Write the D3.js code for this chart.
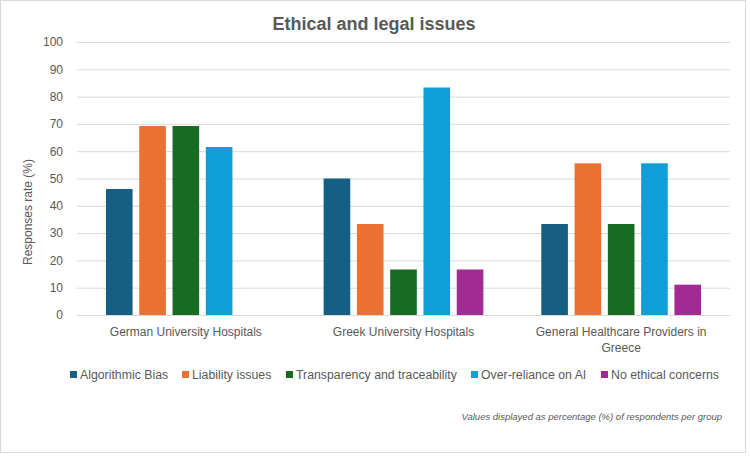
<!DOCTYPE html>
<html>
<head>
<meta charset="utf-8">
<script src="https://cdn.jsdelivr.net/npm/d3@7"></script>
<style>
  html, body { margin: 0; padding: 0; background: #fff; }
  svg { display: block; font-family: "Liberation Sans", Arial, sans-serif; }
</style>
</head>
<body>
<svg id="chart" width="750" height="458"></svg>
<script>
const categories = ["German University Hospitals", "Greek University Hospitals", "General Healthcare Providers in Greece"];
const categoryLines = [["German University Hospitals"], ["Greek University Hospitals"], ["General Healthcare Providers in", "Greece"]];
const seriesNames = ["Algorithmic Bias", "Liability issues", "Transparency and traceability", "Over-reliance on AI", "No ethical concerns"];
const algorithmicBias = [46.15, 50.00, 33.33];
const liabilityIssues = [69.23, 33.33, 55.56];
const transparency = [69.23, 16.67, 33.33];
const overReliance = [61.54, 83.33, 55.56];
const noConcerns = [0, 16.67, 11.11];
const seriesValues = [algorithmicBias, liabilityIssues, transparency, overReliance, noConcerns];
const colors = ["#156082", "#E97132", "#196B24", "#0F9ED5", "#A02B93"];
const yTicks = [0, 10, 20, 30, 40, 50, 60, 70, 80, 90, 100];

const svg = d3.select("#chart");
const plot = { left: 77, right: 730, top: 42, bottom: 315 };
const textColor = "#595959";

// border
svg.append("rect").attr("x", 0.5).attr("y", 0.5).attr("width", 745).attr("height", 452)
  .attr("fill", "#fff").attr("stroke", "#d9d9d9").attr("stroke-width", 1);

const x0 = d3.scaleBand().domain(categories).range([plot.left, plot.right]).paddingInner(0).paddingOuter(0);
const x1 = d3.scaleBand().domain(seriesNames).range([0, x0.bandwidth()]).paddingInner(0.2).paddingOuter(0.87);
const y = d3.scaleLinear().domain([0, 100]).range([plot.bottom, plot.top]);

// gridlines + y tick labels via axis
const yAxis = d3.axisLeft(y).tickValues(yTicks).tickSize(-(plot.right - plot.left)).tickPadding(14);
const gy = svg.append("g").attr("transform", `translate(${plot.left},0)`).call(yAxis);
gy.select(".domain").remove();
gy.selectAll(".tick line").attr("stroke", "#d9d9d9").attr("stroke-width", 1);
gy.selectAll(".tick text").attr("fill", textColor).style("font-size", "12px")
  .style("font-family", "'Liberation Sans', Arial, sans-serif");

// bars
const groups = svg.append("g").selectAll("g").data(categories).join("g")
  .attr("transform", d => `translate(${x0(d)},0)`);
groups.selectAll("rect")
  .data((c, ci) => seriesNames.map((s, si) => ({ s, si, v: seriesValues[si][ci] })))
  .join("rect")
  .filter(d => d.v > 0)
  .attr("x", d => x1(d.s))
  .attr("width", x1.bandwidth())
  .attr("y", d => y(d.v))
  .attr("height", d => y(0) - y(d.v))
  .attr("fill", d => colors[d.si]);

// category labels
categories.forEach((c, ci) => {
  const cx = x0(c) + x0.bandwidth() / 2;
  const t = svg.append("text").attr("x", cx).attr("y", 335.5)
    .attr("text-anchor", "middle").attr("fill", textColor).style("font-size", "12px");
  categoryLines[ci].forEach((line, li) => {
    t.append("tspan").attr("x", cx).attr("dy", li === 0 ? 0 : 16).text(line);
  });
});

// title
svg.append("text").attr("x", 374).attr("y", 30).attr("text-anchor", "middle")
  .attr("fill", textColor).style("font-size", "18px").style("font-weight", "bold")
  .text("Ethical and legal issues");

// y axis title
svg.append("text").attr("transform", "translate(32,212) rotate(-90)").attr("text-anchor", "middle")
  .attr("fill", textColor).style("font-size", "12px").text("Responses rate (%)");

// legend (square x positions are layout)
const legendX = [70, 182, 286, 471, 601];
const legend = svg.append("g");
seriesNames.forEach((s, i) => {
  legend.append("rect").attr("x", legendX[i]).attr("y", 371).attr("width", 7).attr("height", 7).attr("fill", colors[i]);
  legend.append("text").attr("x", legendX[i] + 10).attr("y", 378.5).attr("fill", textColor)
    .style("font-size", "12.3px").text(s);
});

// footnote
svg.append("text").attr("x", 722).attr("y", 420).attr("text-anchor", "end")
  .attr("fill", textColor).style("font-size", "9.5px").style("font-style", "italic")
  .text("Values displayed as percentage (%) of respondents per group");
</script>
</body>
</html>
